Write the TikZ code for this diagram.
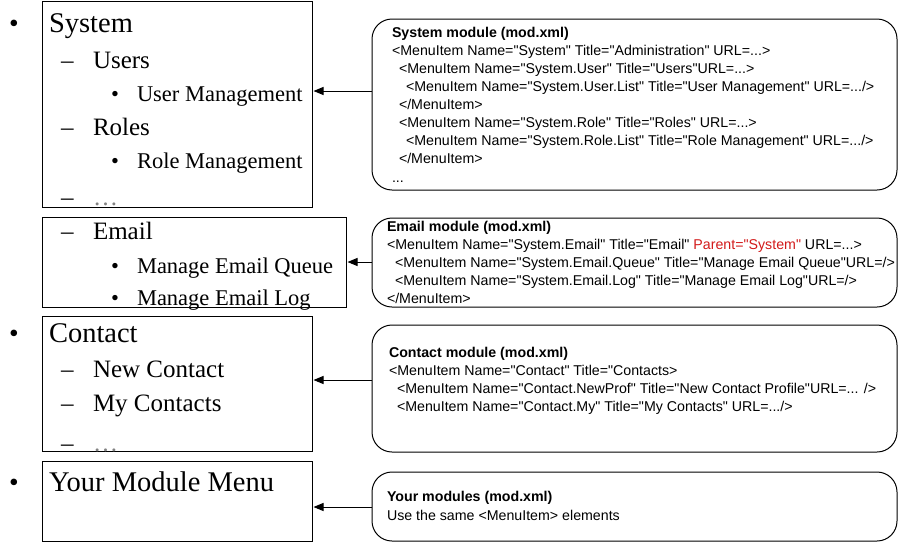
\documentclass[tikz,border=0pt]{standalone}
\usepackage{fontspec}
\setmainfont{Liberation Serif}
\newfontfamily\arialf{Liberation Sans}
\usetikzlibrary{arrows.meta}
\definecolor{xred}{RGB}{210,25,25}
\definecolor{dotgray}{RGB}{130,130,130}
\newcommand\codefont{\arialf\fontsize{14.2}{16}\selectfont}
\tikzset{
  lbox/.style={draw=black, line width=1pt, rectangle, inner sep=0pt, outer sep=0pt, anchor=north west},
  rbox/.style={draw=black, line width=1pt, rectangle, rounded corners=20pt, inner sep=0pt, outer sep=0pt, anchor=north west},
  conn/.style={line width=1pt, -{Triangle[length=10pt,width=8pt]}, shorten >=1.5pt},
  tl/.style={anchor=base west, inner sep=0pt, outer sep=0pt},
  lvA/.style={tl, font=\fontsize{28.5}{30}\selectfont},
  lvB/.style={tl, font=\fontsize{25}{28}\selectfont},
  lvC/.style={tl, font=\fontsize{22.5}{26}\selectfont},
  bulA/.style={anchor=base, inner sep=0pt, font=\fontsize{27.5}{30}\selectfont},
  bulC/.style={anchor=base, inner sep=0pt, font=\fontsize{22.5}{26}\selectfont},
  code/.style={tl, font=\codefont},
  codeb/.style={tl, font=\codefont\bfseries},
}
\begin{document}
\begin{tikzpicture}[x=1pt,y=-1pt]
\useasboundingbox (0,0) rectangle (899,544);

% left boxes
\node[lbox, minimum width=270pt, minimum height=206pt] (l1) at (42,1) {};
\node[lbox, minimum width=304pt, minimum height=90pt] (l2) at (42,217) {};
\node[lbox, minimum width=270pt, minimum height=135pt] (l3) at (42,316) {};
\node[lbox, minimum width=270pt, minimum height=80pt] (l4) at (42,461) {};

% right boxes
\node[rbox, minimum width=525pt, minimum height=171pt] (r1) at (372,19) {};
\node[rbox, minimum width=525pt, minimum height=89pt] (r2) at (372,218) {};
\node[rbox, minimum width=525pt, minimum height=127pt] (r3) at (372,325) {};
\node[rbox, minimum width=525pt, minimum height=69pt] (r4) at (372,472) {};

% outline texts
\node[bulA] (b1) at (14,32) {•};
\begin{scope}
\clip (l1.south west) rectangle (l1.north east);
\node[lvA] (t1) at (49,32) {System};
\node[lvB] (d11) at (61,68) {–};
\node[lvB] (t11) at (93,68) {Users};
\node[bulC] (b111) at (115,101) {•};
\node[lvC] (t111) at (137,101) {User Management};
\node[lvB] (d12) at (61,135) {–};
\node[lvB] (t12) at (93,135) {Roles};
\node[bulC] (b121) at (115,168) {•};
\node[lvC] (t121) at (137,168) {Role Management};
\node[lvB] (d13) at (61,205) {–};
\node[lvB, text=dotgray] (t13) at (93,205) {…};
\end{scope}

\node[lvB] (d21) at (61,239) {–};
\node[lvB] (t21) at (93,239) {Email};
\node[bulC] (b211) at (115,273) {•};
\node[lvC] (t211) at (137,273) {Manage Email Queue};
\node[bulC] (b212) at (115,305) {•};
\node[lvC] (t212) at (137,305) {Manage Email Log};

\node[bulA] (b3) at (14,342) {•};
\begin{scope}
\clip (l3.south west) rectangle (l3.north east);
\node[lvA] (t3) at (49,342) {Contact};
\node[lvB] (d31) at (61,377) {–};
\node[lvB] (t31) at (93,377) {New Contact};
\node[lvB] (d32) at (61,411) {–};
\node[lvB] (t32) at (93,411) {My Contacts};
\node[lvB] (d33) at (61,451) {–};
\node[lvB, text=dotgray] (t33) at (93,451) {…};
\end{scope}

\node[bulA] (b4) at (14,491) {•};
\node[lvA] (t4) at (49,491) {Your Module Menu};

% code texts
\node[codeb] (c10) at (392,37) {System module (mod.xml)};
\node[code] (c11) at (392,55) {<MenuItem Name="System" Title="Administration" URL=...>};
\node[code] (c12) at (399,73) {<MenuItem Name="System.User" Title="Users"URL=...>};
\node[code] (c13) at (406,91) {<MenuItem Name="System.User.List" Title="User Management" URL=.../>};
\node[code] (c14) at (399,109) {</MenuItem>};
\node[code] (c15) at (399,127) {<MenuItem Name="System.Role" Title="Roles" URL=...>};
\node[code] (c16) at (406,145) {<MenuItem Name="System.Role.List" Title="Role Management" URL=.../>};
\node[code] (c17) at (399,163) {</MenuItem>};
\node[code] (c18) at (392,182) {...};

\node[codeb] (c20) at (387,231) {Email module (mod.xml)};
\node[code] (c21) at (387,249) {<MenuItem Name="System.Email" Title="Email" {\color{xred}Parent="System"} URL=...>};
\node[code] (c22) at (395,267) {<MenuItem Name="System.Email.Queue" Title="Manage Email Queue"URL=/>};
\node[code] (c23) at (395,285) {<MenuItem Name="System.Email.Log" Title="Manage Email Log"URL=/>};
\node[code] (c24) at (387,303) {</MenuItem>};

\node[codeb] (c30) at (389,357) {Contact module (mod.xml)};
\node[code] (c31) at (389,375) {<MenuItem Name="Contact" Title="Contacts>};
\node[code] (c32) at (397,393) {<MenuItem Name="Contact.NewProf" Title="New Contact Profile"URL=... />};
\node[code] (c33) at (397,411) {<MenuItem Name="Contact.My" Title="My Contacts" URL=.../>};

\node[codeb] (c40) at (387,501) {Your modules (mod.xml)};
\node[code] (c41) at (387,520) {Use the same <MenuItem> elements};

% connectors
\coordinate (a1) at (0,91);
\coordinate (a2) at (0,262);
\coordinate (a3) at (0,380);
\coordinate (a4) at (0,507);
\draw[conn] (a1 -| r1.west) -- (a1 -| l1.east);
\draw[conn] (a2 -| r2.west) -- (a2 -| l2.east);
\draw[conn] (a3 -| r3.west) -- (a3 -| l3.east);
\draw[conn] (a4 -| r4.west) -- (a4 -| l4.east);
\end{tikzpicture}
\end{document}
